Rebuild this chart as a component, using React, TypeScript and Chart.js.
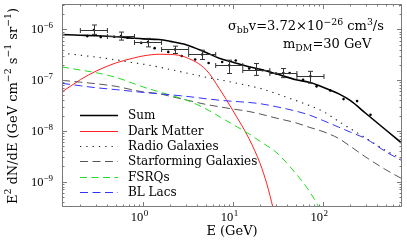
import React, { useEffect, useRef } from 'react';
import { Chart, registerables } from 'chart.js';
Chart.register(...registerables);

// Energies (GeV) at which the model curves were read
const curveE = [0.125, 0.2, 0.3, 0.5, 0.8, 1, 1.5, 2, 3, 5, 7, 10, 15, 20, 30, 50, 70, 100, 150, 200, 300, 500, 755];
const sumF = [7.88e-7, 7.68e-7, 7.5e-7, 7.16e-7, 6.67e-7, 6.49e-7, 6.31e-7, 5.81e-7, 5.0e-7, 3.5e-7, 2.7e-7, 2.25e-7, 1.83e-7, 1.64e-7, 1.33e-7, 1.02e-7, 9.04e-8, 7.26e-8, 5.35e-8, 3.98e-8, 2.2e-8, 1.04e-8, 5.68e-9];
const radioF = [3.4e-7, 3.1e-7, 2.84e-7, 2.51e-7, 2.19e-7, 2.06e-7, 1.81e-7, 1.62e-7, 1.39e-7, 1.14e-7, 1.02e-7, 9.0e-8, 7.74e-8, 6.89e-8, 5.43e-8, 3.95e-8, 3.18e-8, 2.41e-8, 1.53e-8, 1.11e-8, 7.2e-9, 4.07e-9, 2.82e-9];
const starF = [9.91e-8, 9.12e-8, 8.49e-8, 7.54e-8, 6.31e-8, 5.86e-8, 5.41e-8, 4.8e-8, 4.07e-8, 3.32e-8, 2.99e-8, 2.69e-8, 2.41e-8, 2.15e-8, 1.79e-8, 1.44e-8, 1.18e-8, 9.68e-9, 7.05e-9, 5.0e-9, 3.03e-9, 1.71e-9, 1.14e-9];
const blLacF = [8.65e-8, 7.74e-8, 7.08e-8, 6.49e-8, 5.95e-8, 5.73e-8, 5.38e-8, 5.14e-8, 4.8e-8, 4.3e-8, 4.02e-8, 3.82e-8, 3.63e-8, 3.43e-8, 3.0e-8, 2.45e-8, 2.06e-8, 1.6e-8, 1.18e-8, 9.5e-9, 6.98e-9, 3.87e-9, 2.58e-9];

const dmE = [0.125, 0.2, 0.3, 0.5, 0.8, 1, 1.5, 2, 3, 5, 7, 10, 15, 20, 23.7, 27.8];
const dmF = [5.86e-8, 1.02e-7, 1.51e-7, 2.19e-7, 2.75e-7, 3.0e-7, 3.23e-7, 3.21e-7, 2.8e-7, 1.6e-7, 6.89e-8, 2.47e-8, 7.05e-9, 2.25e-9, 9.04e-10, 3.03e-10];

const fsrqE = [0.125, 0.2, 0.3, 0.5, 0.8, 1, 1.5, 2, 3, 5, 7, 10, 15, 20, 30, 50, 70, 88, 100];
const fsrqF = [1.82e-7, 1.58e-7, 1.4e-7, 1.13e-7, 8.45e-8, 7.33e-8, 5.89e-8, 5.05e-8, 4.07e-8, 2.7e-8, 1.92e-8, 1.33e-8, 8.73e-9, 6.19e-9, 3.8e-9, 1.43e-9, 6.58e-10, 3.32e-10, 2.0e-10];

// Small dots (second data set)
const dotE = [0.239, 0.337, 0.476, 0.673, 0.95, 1.34, 1.9, 2.68, 3.78, 5.34, 7.55, 10.7, 15.1, 21.3, 30.1, 42.5, 60.0, 84.7, 120, 169, 239, 337];
const dotF = [7.37e-7, 7.04e-7, 7.14e-7, 6.82e-7, 5.43e-7, 4.27e-7, 3.6e-7, 2.99e-7, 2.55e-7, 2.18e-7, 2.28e-7, 2.43e-7, 1.69e-7, 1.56e-7, 1.35e-7, 1.38e-7, 1.02e-7, 7.54e-8, 6.28e-8, 4.23e-8, 3.86e-8, 2.08e-8];

// Binned data points with error bars
const ptE = [0.283, 0.566, 1.13, 2.26, 4.53, 9.05, 18.1, 36.2, 72.4];
const ptF = [9.7e-7, 7.37e-7, 5.61e-7, 4.02e-7, 3.2e-7, 1.96e-7, 1.61e-7, 1.38e-7, 1.19e-7];
const ptHi = [1.22e-6, 8.85e-7, 6.64e-7, 4.67e-7, 3.89e-7, 2.47e-7, 2.12e-7, 1.69e-7, 1.49e-7];
const ptLo = [7.96e-7, 6.14e-7, 4.52e-7, 3.35e-7, 2.55e-7, 1.35e-7, 1.24e-7, 1.12e-7, 8.7e-8];
const binLo = [0.2, 0.4, 0.8, 1.6, 3.2, 6.4, 12.8, 25.6, 51.2];
const binHi = [0.4, 0.8, 1.6, 3.2, 6.4, 12.8, 25.6, 51.2, 102.4];

const xMin = 0.125;
const xMax = 755;
const yMin = 3.162e-10;
const yMax = 3.162e-6;
const xMajor = [1, 10, 100];
const yMajor = [-9, -8, -7, -6];

const seriesLabels = ['Sum', 'Dark Matter', 'Radio Galaxies', 'Starforming Galaxies', 'FSRQs', 'BL Lacs'];
const seriesColors = ['#000000', '#ff2020', '#222222', '#555555', '#22dd22', '#3333ff'];
const seriesDash: number[][] = [[], [], [1.3, 5], [8, 4.5], [7, 4.5], [8, 4.5]];
const seriesWidth = [1.6, 1, 1.1, 1, 1, 1];

const SERIF = '"DejaVu Serif"';
const TIMES = '"Liberation Serif"';

type Part = { t: string; s?: 'sup' | 'sub' };

function richWidth(ctx: CanvasRenderingContext2D, parts: Part[], size: number, fam: string) {
  let w = 0;
  for (const p of parts) {
    ctx.font = `${p.s ? size * 0.72 : size}px ${fam}`;
    w += ctx.measureText(p.t).width;
  }
  return w;
}

function drawRich(ctx: CanvasRenderingContext2D, parts: Part[], x: number, y: number, size: number, fam: string, align: 'left' | 'right' | 'center') {
  const w = richWidth(ctx, parts, size, fam);
  let cx = align === 'left' ? x : align === 'right' ? x - w : x - w / 2;
  ctx.textAlign = 'left';
  ctx.textBaseline = 'alphabetic';
  for (const p of parts) {
    const fs = p.s ? size * 0.72 : size;
    ctx.font = `${fs}px ${fam}`;
    const dy = p.s === 'sup' ? -size * 0.42 : p.s === 'sub' ? size * 0.25 : 0;
    ctx.fillText(p.t, cx, y + dy);
    cx += ctx.measureText(p.t).width;
  }
}

const decorPlugin = {
  id: 'decor',
  afterDraw(chart: any) {
    const ctx: CanvasRenderingContext2D = chart.ctx;
    const xs = chart.scales.x;
    const ys = chart.scales.y;
    const { left, right, top, bottom } = chart.chartArea;
    ctx.save();

    // error-bar crosses
    ctx.strokeStyle = '#333';
    ctx.lineWidth = 1;
    for (let i = 0; i < ptE.length; i++) {
      const cx = Math.round(xs.getPixelForValue(ptE[i])) + 0.5;
      const cy = Math.round(ys.getPixelForValue(ptF[i])) + 0.5;
      const x0 = xs.getPixelForValue(binLo[i]);
      const x1 = xs.getPixelForValue(binHi[i]);
      const y0 = ys.getPixelForValue(ptHi[i]);
      const y1 = ys.getPixelForValue(ptLo[i]);
      ctx.beginPath();
      ctx.moveTo(x0, cy); ctx.lineTo(x1, cy);
      ctx.moveTo(cx, y0); ctx.lineTo(cx, y1);
      ctx.moveTo(cx - 2.5, y0); ctx.lineTo(cx + 2.5, y0);
      ctx.moveTo(cx - 2.5, y1); ctx.lineTo(cx + 2.5, y1);
      ctx.moveTo(x0, cy - 2.5); ctx.lineTo(x0, cy + 2.5);
      ctx.moveTo(x1, cy - 2.5); ctx.lineTo(x1, cy + 2.5);
      ctx.stroke();
    }

    // frame
    ctx.strokeStyle = '#7a7a7a';
    ctx.lineWidth = 1;
    ctx.strokeRect(left + 0.5, top + 0.5, right - left - 1, bottom - top - 1);

    // x ticks
    ctx.beginPath();
    for (let d = -1; d <= 3; d++) {
      for (let m = 1; m <= 9; m++) {
        const v = m * Math.pow(10, d);
        if (v < xMin || v > xMax) continue;
        const px = Math.round(xs.getPixelForValue(v)) + 0.5;
        const len = m === 1 ? 5 : 2.5;
        ctx.moveTo(px, bottom); ctx.lineTo(px, bottom - len);
        ctx.moveTo(px, top); ctx.lineTo(px, top + len);
      }
    }
    // y ticks
    for (let d = -10; d <= -6; d++) {
      for (let m = 1; m <= 9; m++) {
        const v = m * Math.pow(10, d);
        if (v < yMin || v > yMax) continue;
        const py = Math.round(ys.getPixelForValue(v)) + 0.5;
        const len = m === 1 ? 5 : 2.5;
        ctx.moveTo(left, py); ctx.lineTo(left + len, py);
        ctx.moveTo(right, py); ctx.lineTo(right - len, py);
      }
    }
    ctx.stroke();

    ctx.fillStyle = '#000';
    // x tick labels
    for (const v of xMajor) {
      const px = xs.getPixelForValue(v);
      const e = Math.round(Math.log10(v));
      ctx.font = `12.5px ${TIMES}`;
      ctx.textAlign = 'right';
      ctx.textBaseline = 'alphabetic';
      ctx.fillText('10', px, bottom + 13.5);
      ctx.textAlign = 'left';
      ctx.font = `9px ${TIMES}`;
      ctx.fillText(String(e), px + 0.5, bottom + 8.5);
    }
    // y tick labels
    for (const e of yMajor) {
      const py = ys.getPixelForValue(Math.pow(10, e));
      const sup = '\u2212' + String(-e);
      ctx.font = `9px ${TIMES}`;
      const sw = ctx.measureText(sup).width;
      ctx.textAlign = 'left';
      ctx.textBaseline = 'alphabetic';
      ctx.fillText(sup, left - 9 - sw, py - 1);
      ctx.font = `12.5px ${TIMES}`;
      ctx.textAlign = 'right';
      ctx.fillText('10', left - 9 - sw, py + 4);
    }

    // axis titles
    drawRich(ctx, [{ t: 'E (GeV)' }], 232, 235, 13, SERIF, 'center');
    ctx.save();
    ctx.translate(16.5, 106);
    ctx.rotate(-Math.PI / 2);
    drawRich(ctx, [
      { t: 'E' }, { t: '2', s: 'sup' }, { t: ' dN/dE (GeV cm' }, { t: '\u22122', s: 'sup' },
      { t: ' s' }, { t: '\u22121', s: 'sup' }, { t: ' sr' }, { t: '\u22121', s: 'sup' }, { t: ')' },
    ], 0, 0, 13, SERIF, 'center');
    ctx.restore();

    // annotation
    drawRich(ctx, [
      { t: '\u03c3' }, { t: 'bb', s: 'sub' }, { t: 'v=3.72\u00d710' }, { t: '\u221226', s: 'sup' },
      { t: ' cm' }, { t: '3', s: 'sup' }, { t: '/s' },
    ], 228, 30, 13, SERIF, 'left');
    drawRich(ctx, [{ t: 'm' }, { t: 'DM', s: 'sub' }, { t: '=30 GeV' }], 283, 47.5, 13, SERIF, 'left');

    // legend
    for (let i = 0; i < seriesLabels.length; i++) {
      const ly = Math.round(115.3 + i * 15.35) + 0.5;
      ctx.strokeStyle = seriesColors[i];
      ctx.lineWidth = seriesWidth[i];
      ctx.setLineDash(seriesDash[i]);
      ctx.beginPath();
      ctx.moveTo(80, ly); ctx.lineTo(118, ly);
      ctx.stroke();
      ctx.setLineDash([]);
      ctx.fillStyle = '#000';
      ctx.font = `12px ${SERIF}`;
      ctx.textAlign = 'left';
      ctx.textBaseline = 'middle';
      ctx.fillText(seriesLabels[i], 128, ly);
    }
    ctx.restore();
  },
};

function lineSet(label: string, es: number[], fs: number[], i: number) {
  return {
    type: 'line' as const,
    label,
    data: es.map((e, k) => ({ x: e, y: fs[k] })),
    borderColor: seriesColors[i],
    borderWidth: seriesWidth[i],
    borderDash: seriesDash[i],
    pointRadius: 0,
    fill: false,
    cubicInterpolationMode: 'monotone' as const,
    clip: 0,
  };
}

export default function App() {
  const ref = useRef<HTMLCanvasElement>(null);
  useEffect(() => {
    document.body.style.margin = '0';
    const chart = new Chart(ref.current as HTMLCanvasElement, {
      type: 'line',
      data: {
        datasets: [
          lineSet(seriesLabels[5], curveE, blLacF, 5),
          lineSet(seriesLabels[4], fsrqE, fsrqF, 4),
          lineSet(seriesLabels[3], curveE, starF, 3),
          lineSet(seriesLabels[2], curveE, radioF, 2),
          lineSet(seriesLabels[1], dmE, dmF, 1),
          lineSet(seriesLabels[0], curveE, sumF, 0),
          {
            type: 'scatter' as const,
            label: 'dots',
            data: dotE.map((e, k) => ({ x: e, y: dotF[k] })),
            backgroundColor: '#000',
            borderColor: '#000',
            pointRadius: 1.3,
            pointBorderWidth: 0,
            showLine: false,
          },
          {
            type: 'scatter' as const,
            label: 'data',
            data: ptE.map((e, k) => ({ x: e, y: ptF[k] })),
            backgroundColor: '#000',
            borderColor: '#000',
            pointRadius: 1.3,
            pointBorderWidth: 0,
            showLine: false,
          },
        ] as any,
      },
      options: {
        responsive: false,
        animation: false,
        devicePixelRatio: 1,
        layout: { padding: { left: 62, right: 5, top: 4, bottom: 36 } },
        scales: {
          x: { type: 'logarithmic', min: xMin, max: xMax, display: false },
          y: { type: 'logarithmic', min: yMin, max: yMax, display: false },
        },
        plugins: { legend: { display: false }, tooltip: { enabled: false } },
        events: [],
      },
      plugins: [decorPlugin],
    });
    return () => chart.destroy();
  }, []);
  return (
    <div style={{ width: 407, height: 243, background: '#fff' }}>
      <canvas ref={ref} width={407} height={243} style={{ display: 'block' }} />
    </div>
  );
}
